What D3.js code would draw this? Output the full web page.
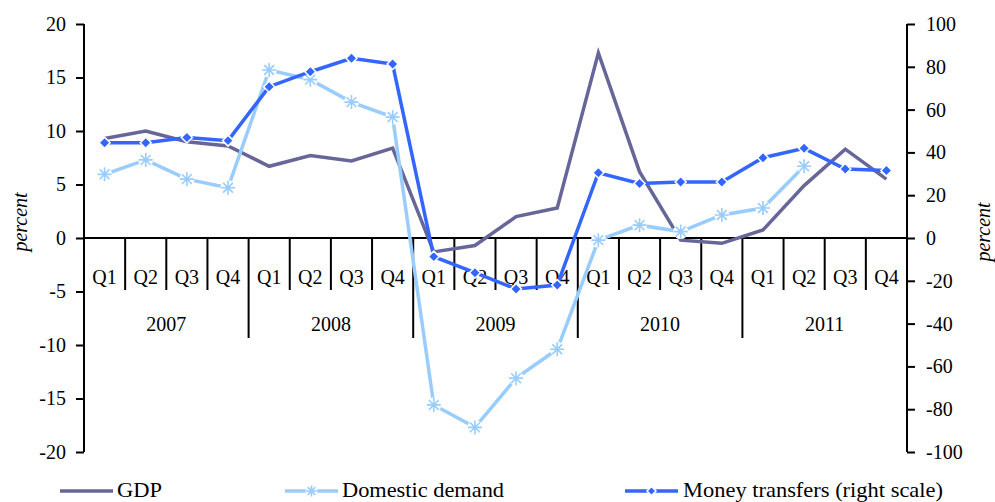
<!DOCTYPE html>
<html><head><meta charset="utf-8">
<script src="https://cdn.jsdelivr.net/npm/d3@7"></script>
<style>
html,body{margin:0;padding:0;background:#fff;}
svg{display:block;}
text{font-family:"Liberation Serif","Times New Roman",serif;fill:#000;}
</style></head>
<body>
<svg id="chart" width="995" height="502"></svg>
<script>
const years = ["2007","2008","2009","2010","2011"];
const quarters = ["Q1","Q2","Q3","Q4"];
const gdp = [9.3,10.0,9.0,8.6, 6.7,7.7,7.2,8.4, -1.3,-0.7,2.0,2.8, 17.3,6.2,-0.2,-0.5, 0.75,4.9,8.3,5.5];
const domesticDemand = [5.95,7.3,5.5,4.7, 15.7,14.8,12.7,11.3, -15.6,-17.7,-13.1,-10.4, -0.2,1.2,0.6,2.15, 2.8,6.7,null,null];
const moneyTransfers = [44.5,44.5,47,45.5, 70.7,77.7,84,81.3, -8.7,-16.2,-23.8,-22, 30.5,25.5,26.2,26.2, 37.5,41.9,32.2,31.5];
const leftTicks = [20,15,10,5,0,-5,-10,-15,-20];
const rightTicks = [100,80,60,40,20,0,-20,-40,-60,-80,-100];
const seriesNames = ["GDP","Domestic demand","Money transfers (right scale)"];

const colors = {gdp:"#666699", dd:"#99ccff", mt:"#3366ff"};
const svg = d3.select("#chart");
const L = 84, R = 907, T = 24, B = 452;
const cats = [];
years.forEach(y => quarters.forEach(q => cats.push({y, q})));
const x = d3.scaleBand().domain(d3.range(cats.length)).range([L, R]).paddingInner(0).paddingOuter(0);
const cx = i => x(i) + x.bandwidth()/2;
const yL = d3.scaleLinear().domain([-20,20]).range([B, T]);
const yR = d3.scaleLinear().domain([-100,100]).range([B, T]);
const fs = 20;
const fmt = d => String(d);

// left axis
const la = svg.append("g").attr("transform",`translate(${L},0)`)
  .call(d3.axisLeft(yL).tickValues(leftTicks).tickSize(8).tickPadding(10).tickFormat(fmt));
la.select(".domain").attr("stroke","#000").attr("stroke-width",2).attr("d",`M0,${T}H0V${B}H0`);
la.selectAll(".tick line").attr("stroke","#000").attr("stroke-width",2);
la.selectAll("text").style("font-size",fs+"px").style("font-family","Liberation Serif");
// right axis
const ra = svg.append("g").attr("transform",`translate(${R},0)`)
  .call(d3.axisRight(yR).tickValues(rightTicks).tickSize(8).tickPadding(11).tickFormat(fmt));
ra.select(".domain").attr("stroke","#000").attr("stroke-width",2).attr("d",`M0,${T}H0V${B}H0`);
ra.selectAll(".tick line").attr("stroke","#000").attr("stroke-width",2);
ra.selectAll("text").style("font-size",fs+"px").style("font-family","Liberation Serif");

// category axis at zero
const y0 = yL(0);
svg.append("line").attr("x1",L).attr("x2",R).attr("y1",y0).attr("y2",y0).attr("stroke","#000").attr("stroke-width",2);
const g = svg.append("g");
for (let i = 1; i < cats.length; i++) {
  const xx = x(i);
  const isYear = i % 4 === 0;
  g.append("line").attr("x1",xx).attr("x2",xx).attr("y1",y0).attr("y2",y0 + (isYear ? 100 : 52))
    .attr("stroke","#000").attr("stroke-width",2);
}
g.selectAll("text.q").data(cats).join("text").attr("class","q")
  .attr("x",(d,i)=>cx(i)).attr("y",y0+46).attr("text-anchor","middle").style("font-size",fs+"px").text(d=>d.q);
g.selectAll("text.yr").data(years).join("text").attr("class","yr")
  .attr("x",(d,i)=>(x(i*4)+x(i*4+3)+x.bandwidth())/2).attr("y",y0+93).attr("text-anchor","middle").style("font-size",fs+"px").text(d=>d);

// axis titles
svg.append("text").attr("transform",`translate(27,${222}) rotate(-90)`).attr("text-anchor","middle")
  .style("font-size",fs+"px").style("font-style","italic").text("percent");
svg.append("text").attr("transform",`translate(990,${232}) rotate(-90)`).attr("text-anchor","middle")
  .style("font-size",fs+"px").style("font-style","italic").text("percent");

// lines
const lineL = d3.line().defined(d=>d!=null).x((d,i)=>cx(i)).y(d=>yL(d));
const lineR = d3.line().defined(d=>d!=null).x((d,i)=>cx(i)).y(d=>yR(d));
svg.append("path").attr("d",lineL(gdp)).attr("fill","none").attr("stroke",colors.gdp).attr("stroke-width",3.5).attr("stroke-linejoin","miter");

function asterisk(r) {
  return `M${-r},0H${r}M${-r*0.7},${-r*0.7}L${r*0.7},${r*0.7}M${-r*0.7},${r*0.7}L${r*0.7},${-r*0.7}M0,${-r}V${r}`;
}
svg.append("path").attr("d",lineL(domesticDemand)).attr("fill","none").attr("stroke",colors.dd).attr("stroke-width",3.5);
const ddPts = domesticDemand.map((v,i)=>({v,i})).filter(d=>d.v!=null);
svg.append("g").selectAll("circle").data(ddPts).join("circle")
  .attr("cx",d=>cx(d.i)).attr("cy",d=>yL(d.v)).attr("r",7.5).attr("fill","#fff");
svg.append("g").selectAll("path").data(ddPts).join("path")
  .attr("transform",d=>`translate(${cx(d.i)},${yL(d.v)})`).attr("d",asterisk(7))
  .attr("stroke",colors.dd).attr("stroke-width",1.6).attr("fill","none");

svg.append("path").attr("d",lineR(moneyTransfers)).attr("fill","none").attr("stroke",colors.mt).attr("stroke-width",3.5);
svg.append("g").selectAll("path").data(moneyTransfers).join("path")
  .attr("transform",(d,i)=>`translate(${cx(i)},${yR(d)})`).attr("d","M0,-5.5L5.5,0L0,5.5L-5.5,0Z")
  .attr("fill",colors.mt).attr("stroke","#fff").attr("stroke-width",1.5);

// legend
const ly = 491;
const lg = svg.append("g");
lg.append("line").attr("x1",60).attr("x2",113).attr("y1",ly).attr("y2",ly).attr("stroke",colors.gdp).attr("stroke-width",3.5);
lg.append("text").attr("x",117).attr("y",ly+6).style("font-size","21px").attr("textLength",45).attr("lengthAdjust","spacingAndGlyphs").text(seriesNames[0]);
lg.append("line").attr("x1",285).attr("x2",338).attr("y1",ly).attr("y2",ly).attr("stroke",colors.dd).attr("stroke-width",3.5);
lg.append("circle").attr("cx",311.5).attr("cy",ly).attr("r",6).attr("fill","#fff");
lg.append("path").attr("transform",`translate(311.5,${ly})`).attr("d",asterisk(5.5)).attr("stroke",colors.dd).attr("stroke-width",1.6).attr("fill","none");
lg.append("text").attr("x",342).attr("y",ly+6).style("font-size","21px").attr("textLength",162).attr("lengthAdjust","spacingAndGlyphs").text(seriesNames[1]);
lg.append("line").attr("x1",625).attr("x2",678).attr("y1",ly).attr("y2",ly).attr("stroke",colors.mt).attr("stroke-width",3.5);
lg.append("path").attr("transform",`translate(651.5,${ly})`).attr("d","M0,-4.5L4.5,0L0,4.5L-4.5,0Z").attr("fill",colors.mt).attr("stroke","#fff").attr("stroke-width",1.5);
lg.append("text").attr("x",683).attr("y",ly+6).style("font-size","21px").attr("textLength",260).attr("lengthAdjust","spacingAndGlyphs").text(seriesNames[2]);
</script>
</body></html>
